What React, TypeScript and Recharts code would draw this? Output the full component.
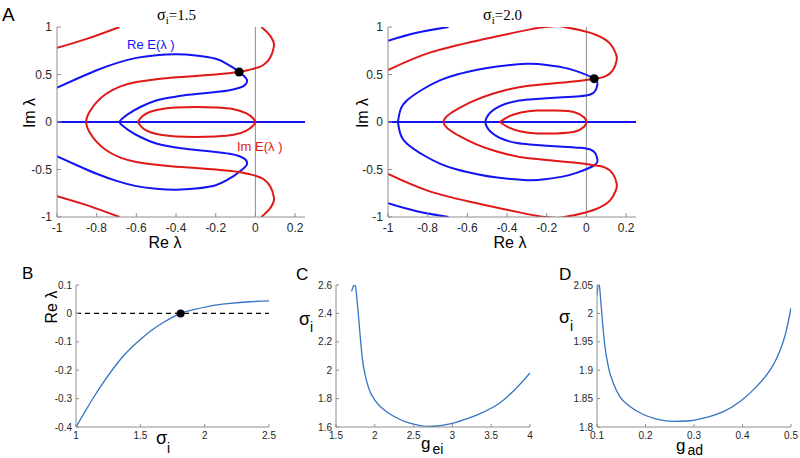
import React from 'react';
import { LineChart, Line, XAxis, YAxis, ReferenceLine, ReferenceDot } from 'recharts';

const AXIS = '#8f8f8f';
const TXT = '#262626';
const SANS = '"Liberation Sans", Arial, Helvetica, sans-serif';
const SERIF = '"Liberation Serif", "Times New Roman", serif';
const BLUE = '#1414f2';
const RED = '#e01818';
const MBLUE = '#3573c4';

// ---------- Panel A, sigma_i = 1.5 ----------
const a1RedTopLeft = [{ x: -1, y: 0.78 }, { x: -0.85, y: 0.875 }, { x: -0.685, y: 1.0 }];
const a1RedBottomLeft = [{ x: -1, y: -0.78 }, { x: -0.85, y: -0.875 }, { x: -0.685, y: -1.0 }];
const a1RedOuter = [
  { x: 0.03, y: 1.0 }, { x: 0.07, y: 0.92 }, { x: 0.09, y: 0.85 }, { x: 0.093, y: 0.79 },
  { x: 0.075, y: 0.68 }, { x: 0.04, y: 0.6 }, { x: 0, y: 0.565 }, { x: -0.04, y: 0.545 },
  { x: -0.082, y: 0.526 }, { x: -0.2, y: 0.5 }, { x: -0.3, y: 0.485 }, { x: -0.4, y: 0.47 },
  { x: -0.5, y: 0.45 }, { x: -0.6, y: 0.42 }, { x: -0.68, y: 0.375 }, { x: -0.75, y: 0.3 },
  { x: -0.8, y: 0.21 }, { x: -0.835, y: 0.11 }, { x: -0.853, y: 0 },
  { x: -0.835, y: -0.11 }, { x: -0.8, y: -0.21 }, { x: -0.75, y: -0.3 }, { x: -0.68, y: -0.375 },
  { x: -0.6, y: -0.42 }, { x: -0.5, y: -0.45 }, { x: -0.4, y: -0.47 }, { x: -0.3, y: -0.485 },
  { x: -0.2, y: -0.5 }, { x: -0.082, y: -0.526 }, { x: -0.04, y: -0.545 }, { x: 0, y: -0.565 },
  { x: 0.04, y: -0.6 }, { x: 0.075, y: -0.68 }, { x: 0.093, y: -0.79 }, { x: 0.09, y: -0.85 },
  { x: 0.07, y: -0.92 }, { x: 0.03, y: -1.0 },
];
const a1RedLoop = [
  { x: -0.593, y: 0 }, { x: -0.57, y: 0.06 }, { x: -0.53, y: 0.108 }, { x: -0.47, y: 0.138 },
  { x: -0.4, y: 0.152 }, { x: -0.3, y: 0.157 }, { x: -0.2, y: 0.152 }, { x: -0.11, y: 0.135 },
  { x: -0.045, y: 0.09 }, { x: -0.012, y: 0.04 }, { x: 0, y: 0 }, { x: -0.012, y: -0.04 },
  { x: -0.045, y: -0.09 }, { x: -0.11, y: -0.135 }, { x: -0.2, y: -0.152 }, { x: -0.3, y: -0.157 },
  { x: -0.4, y: -0.152 }, { x: -0.47, y: -0.138 }, { x: -0.53, y: -0.108 }, { x: -0.57, y: -0.06 },
  { x: -0.593, y: 0 },
];
const a1Blue = [
  { x: -1, y: 0.36 }, { x: -0.9, y: 0.455 }, { x: -0.8, y: 0.545 }, { x: -0.7, y: 0.62 },
  { x: -0.6, y: 0.675 }, { x: -0.5, y: 0.703 }, { x: -0.4, y: 0.712 }, { x: -0.3, y: 0.7 },
  { x: -0.2, y: 0.665 }, { x: -0.146, y: 0.614 }, { x: -0.11, y: 0.57 }, { x: -0.082, y: 0.526 },
  { x: -0.055, y: 0.48 }, { x: -0.042, y: 0.44 }, { x: -0.05, y: 0.395 }, { x: -0.08, y: 0.36 },
  { x: -0.13, y: 0.335 }, { x: -0.2, y: 0.316 }, { x: -0.3, y: 0.295 }, { x: -0.363, y: 0.28 },
  { x: -0.43, y: 0.258 }, { x: -0.5, y: 0.226 }, { x: -0.58, y: 0.158 }, { x: -0.64, y: 0.085 },
  { x: -0.672, y: 0.035 }, { x: -0.685, y: 0 },
  { x: -0.672, y: -0.035 }, { x: -0.64, y: -0.085 }, { x: -0.58, y: -0.158 }, { x: -0.5, y: -0.226 },
  { x: -0.43, y: -0.258 }, { x: -0.363, y: -0.28 }, { x: -0.3, y: -0.295 }, { x: -0.2, y: -0.316 },
  { x: -0.13, y: -0.335 }, { x: -0.08, y: -0.36 }, { x: -0.05, y: -0.395 }, { x: -0.042, y: -0.44 },
  { x: -0.055, y: -0.48 }, { x: -0.082, y: -0.526 }, { x: -0.11, y: -0.57 }, { x: -0.146, y: -0.614 },
  { x: -0.2, y: -0.665 }, { x: -0.3, y: -0.7 }, { x: -0.4, y: -0.712 }, { x: -0.5, y: -0.703 },
  { x: -0.6, y: -0.675 }, { x: -0.7, y: -0.62 }, { x: -0.8, y: -0.545 }, { x: -0.9, y: -0.455 },
  { x: -1, y: -0.36 },
];
const aAxisLine = [{ x: -1, y: 0 }, { x: 0.25, y: 0 }];
const a1Dot = { x: -0.082, y: 0.526 };

// ---------- Panel A, sigma_i = 2.0 ----------
const a2BlueTopLeft = [{ x: -1, y: 0.856 }, { x: -0.855, y: 0.94 }, { x: -0.695, y: 1.0 }];
const a2BlueBottomLeft = [{ x: -1, y: -0.856 }, { x: -0.855, y: -0.94 }, { x: -0.695, y: -1.0 }];
const a2RedOuter = [
  { x: -1, y: 0.547 }, { x: -0.79, y: 0.73 }, { x: -0.535, y: 0.863 }, { x: -0.283, y: 0.975 },
  { x: -0.2, y: 1.0 }, { x: -0.15, y: 1.01 }, { x: -0.11, y: 1.0 }, { x: -0.034, y: 0.968 },
  { x: 0.05, y: 0.916 }, { x: 0.118, y: 0.828 }, { x: 0.148, y: 0.723 }, { x: 0.153, y: 0.653 },
  { x: 0.134, y: 0.547 }, { x: 0.092, y: 0.477 }, { x: 0.039, y: 0.456 }, { x: -0.03, y: 0.435 },
  { x: -0.15, y: 0.41 }, { x: -0.3, y: 0.38 }, { x: -0.4, y: 0.34 }, { x: -0.484, y: 0.29 },
  { x: -0.56, y: 0.23 }, { x: -0.62, y: 0.17 }, { x: -0.686, y: 0.09 }, { x: -0.72, y: 0 },
  { x: -0.686, y: -0.09 }, { x: -0.62, y: -0.17 }, { x: -0.56, y: -0.23 }, { x: -0.484, y: -0.29 },
  { x: -0.4, y: -0.34 }, { x: -0.3, y: -0.38 }, { x: -0.15, y: -0.41 }, { x: -0.03, y: -0.435 },
  { x: 0.039, y: -0.456 }, { x: 0.092, y: -0.477 }, { x: 0.134, y: -0.547 }, { x: 0.153, y: -0.653 },
  { x: 0.148, y: -0.723 }, { x: 0.118, y: -0.828 }, { x: 0.05, y: -0.916 }, { x: -0.034, y: -0.968 },
  { x: -0.11, y: -1.0 }, { x: -0.15, y: -1.01 }, { x: -0.2, y: -1.0 }, { x: -0.283, y: -0.975 },
  { x: -0.535, y: -0.863 }, { x: -0.79, y: -0.73 }, { x: -1, y: -0.547 },
];
const a2RedLoop = [
  { x: -0.437, y: 0 }, { x: -0.39, y: 0.06 }, { x: -0.33, y: 0.1 }, { x: -0.25, y: 0.12 },
  { x: -0.15, y: 0.12 }, { x: -0.06, y: 0.103 }, { x: -0.012, y: 0.05 }, { x: 0, y: 0 },
  { x: -0.012, y: -0.05 }, { x: -0.06, y: -0.103 }, { x: -0.15, y: -0.12 }, { x: -0.25, y: -0.12 },
  { x: -0.33, y: -0.1 }, { x: -0.39, y: -0.06 }, { x: -0.437, y: 0 },
];
const a2Blue = [
  { x: -0.95, y: 0 }, { x: -0.938, y: 0.123 }, { x: -0.904, y: 0.228 }, { x: -0.82, y: 0.35 },
  { x: -0.736, y: 0.44 }, { x: -0.652, y: 0.5 }, { x: -0.55, y: 0.55 }, { x: -0.45, y: 0.585 },
  { x: -0.3, y: 0.612 }, { x: -0.2, y: 0.6 }, { x: -0.12, y: 0.575 }, { x: -0.05, y: 0.535 },
  { x: 0.039, y: 0.456 }, { x: 0.055, y: 0.39 }, { x: 0.045, y: 0.33 }, { x: 0.02, y: 0.29 },
  { x: -0.034, y: 0.272 }, { x: -0.12, y: 0.26 }, { x: -0.2, y: 0.25 }, { x: -0.286, y: 0.237 },
  { x: -0.35, y: 0.222 }, { x: -0.41, y: 0.19 }, { x: -0.455, y: 0.145 }, { x: -0.484, y: 0.1 },
  { x: -0.502, y: 0.05 }, { x: -0.509, y: 0 },
  { x: -0.502, y: -0.05 }, { x: -0.484, y: -0.1 }, { x: -0.455, y: -0.145 }, { x: -0.41, y: -0.19 },
  { x: -0.35, y: -0.222 }, { x: -0.286, y: -0.237 }, { x: -0.2, y: -0.25 }, { x: -0.12, y: -0.26 },
  { x: -0.034, y: -0.272 }, { x: 0.02, y: -0.29 }, { x: 0.045, y: -0.33 }, { x: 0.055, y: -0.39 },
  { x: 0.039, y: -0.456 }, { x: -0.05, y: -0.535 }, { x: -0.12, y: -0.575 }, { x: -0.2, y: -0.6 },
  { x: -0.3, y: -0.612 }, { x: -0.45, y: -0.585 }, { x: -0.55, y: -0.55 }, { x: -0.652, y: -0.5 },
  { x: -0.736, y: -0.44 }, { x: -0.82, y: -0.35 }, { x: -0.904, y: -0.228 }, { x: -0.938, y: -0.123 },
  { x: -0.95, y: 0 },
];
const a2Dot = { x: 0.039, y: 0.456 };

const aXTicks = [-1, -0.8, -0.6, -0.4, -0.2, 0, 0.2];
const aYTicks = [-1, -0.5, 0, 0.5, 1];

// ---------- Panel B ----------
const bData = [
  { x: 1.0, y: -0.4 }, { x: 1.057, y: -0.356 }, { x: 1.135, y: -0.297 }, { x: 1.212, y: -0.244 },
  { x: 1.29, y: -0.194 }, { x: 1.368, y: -0.15 }, { x: 1.446, y: -0.114 }, { x: 1.523, y: -0.083 },
  { x: 1.601, y: -0.055 }, { x: 1.679, y: -0.032 }, { x: 1.756, y: -0.012 }, { x: 1.813, y: 0 },
  { x: 1.912, y: 0.013 }, { x: 2.041, y: 0.026 }, { x: 2.197, y: 0.035 }, { x: 2.352, y: 0.041 },
  { x: 2.5, y: 0.044 },
];
const bDot = { x: 1.813, y: 0 };
const bXTicks = [1, 1.5, 2, 2.5];
const bYTicks = [-0.4, -0.3, -0.2, -0.1, 0, 0.1];

// ---------- Panel C ----------
const cData = [
  { x: 1.7, y: 2.555 }, { x: 1.72, y: 2.585 }, { x: 1.74, y: 2.61 }, { x: 1.755, y: 2.58 },
  { x: 1.77, y: 2.5 }, { x: 1.79, y: 2.38 }, { x: 1.81, y: 2.25 }, { x: 1.84, y: 2.08 },
  { x: 1.88, y: 1.955 }, { x: 1.93, y: 1.86 }, { x: 2.0, y: 1.79 }, { x: 2.1, y: 1.73 },
  { x: 2.2, y: 1.69 }, { x: 2.3, y: 1.66 }, { x: 2.4, y: 1.636 }, { x: 2.5, y: 1.62 },
  { x: 2.6, y: 1.608 }, { x: 2.7, y: 1.604 }, { x: 2.8, y: 1.607 }, { x: 2.9, y: 1.615 },
  { x: 3.0, y: 1.626 }, { x: 3.2, y: 1.66 }, { x: 3.4, y: 1.705 }, { x: 3.6, y: 1.765 },
  { x: 3.8, y: 1.86 }, { x: 4.0, y: 1.98 },
];
const cXTicks = [1.5, 2, 2.5, 3, 3.5, 4];
const cYTicks = [1.6, 1.8, 2, 2.2, 2.4, 2.6];

// ---------- Panel D ----------
const dData = [
  { x: 0.1, y: 2.032 }, { x: 0.104, y: 2.054 }, { x: 0.1076, y: 2.024 }, { x: 0.111, y: 1.988 },
  { x: 0.1165, y: 1.941 }, { x: 0.1234, y: 1.906 }, { x: 0.1337, y: 1.877 }, { x: 0.1474, y: 1.853 },
  { x: 0.168, y: 1.836 }, { x: 0.1955, y: 1.822 }, { x: 0.223, y: 1.814 }, { x: 0.2574, y: 1.81 },
  { x: 0.2918, y: 1.811 }, { x: 0.326, y: 1.817 }, { x: 0.3605, y: 1.827 }, { x: 0.395, y: 1.845 },
  { x: 0.429, y: 1.871 }, { x: 0.4567, y: 1.9 }, { x: 0.4705, y: 1.921 }, { x: 0.4842, y: 1.951 },
  { x: 0.491, y: 1.972 }, { x: 0.5, y: 2.01 },
];
const dXTicks = [0.1, 0.2, 0.3, 0.4, 0.5];
const dYTicks = [1.8, 1.85, 1.9, 1.95, 2, 2.05];

type Rect = { bx: number; by: number; bw: number; bh: number; x0: number; x1: number; y0: number; y1: number };
const YW = 40;

function margins(r: Rect, xh: number) {
  return {
    left: r.x0 - r.bx - YW,
    right: r.bx + r.bw - r.x1,
    top: r.y0 - r.by,
    bottom: r.by + r.bh - r.y1 - xh,
  };
}

function boxAxes(o: {
  xDomain: [number, number]; yDomain: [number, number]; xTicks: number[]; yTicks: number[];
  fontSize: number; tick: number; xMargin: number; yMargin: number; xh: number;
}) {
  const tickStyle = { fontSize: o.fontSize, fill: TXT, fontFamily: SANS };
  const line = { stroke: AXIS, strokeWidth: 1 };
  return [
    <XAxis key="xb" xAxisId="b" type="number" dataKey="x" domain={o.xDomain} ticks={o.xTicks}
      allowDataOverflow interval={0} height={o.xh} tickSize={-o.tick} tickMargin={o.xMargin}
      axisLine={line} tickLine={line} tick={tickStyle} />,
    <XAxis key="xt" xAxisId="t" orientation="top" type="number" dataKey="x" domain={o.xDomain} ticks={o.xTicks}
      allowDataOverflow interval={0} height={0} tickSize={-o.tick} tickMargin={0}
      axisLine={line} tickLine={line} tick={tickStyle} tickFormatter={() => ''} />,
    <YAxis key="yl" yAxisId="l" type="number" dataKey="y" domain={o.yDomain} ticks={o.yTicks}
      allowDataOverflow interval={0} width={YW} tickSize={-o.tick} tickMargin={o.yMargin}
      axisLine={line} tickLine={line} tick={tickStyle} />,
    <YAxis key="yr" yAxisId="r" orientation="right" type="number" dataKey="y" domain={o.yDomain} ticks={o.yTicks}
      allowDataOverflow interval={0} width={0} tickSize={-o.tick} tickMargin={0}
      axisLine={line} tickLine={line} tick={tickStyle} tickFormatter={() => ''} />,
  ];
}

type Curve = { data: { x: number; y: number }[]; color: string };

function ContourPanel({ rect, curves, dot }: { rect: Rect; curves: Curve[]; dot: { x: number; y: number } }) {
  const xh = 25;
  return (
    <div style={{ position: 'absolute', left: rect.bx, top: rect.by, width: rect.bw, height: rect.bh }}>
      <LineChart width={rect.bw} height={rect.bh} margin={margins(rect, xh)}>
        {boxAxes({ xDomain: [-1, 0.25], yDomain: [-1, 1], xTicks: aXTicks, yTicks: aYTicks, fontSize: 12, tick: 4, xMargin: 10, yMargin: 9, xh })}
        <ReferenceLine x={0} xAxisId="b" yAxisId="l" stroke={AXIS} strokeWidth={1} />
        {curves.map((c, i) => (
          <Line key={i} data={c.data} dataKey="y" xAxisId="b" yAxisId="l" type="natural"
            stroke={c.color} strokeWidth={2} dot={false} activeDot={false} isAnimationActive={false} />
        ))}
        <ReferenceDot x={dot.x} y={dot.y} xAxisId="b" yAxisId="l" r={4.5} fill="#000" stroke="none" />
      </LineChart>
    </div>
  );
}

function SimplePanel({ rect, data, xDomain, yDomain, xTicks, yTicks, children }: {
  rect: Rect; data: { x: number; y: number }[]; xDomain: [number, number]; yDomain: [number, number];
  xTicks: number[]; yTicks: number[]; children?: React.ReactNode;
}) {
  const xh = 20;
  return (
    <div style={{ position: 'absolute', left: rect.bx, top: rect.by, width: rect.bw, height: rect.bh }}>
      <LineChart width={rect.bw} height={rect.bh} data={data} margin={margins(rect, xh)}>
        {boxAxes({ xDomain, yDomain, xTicks, yTicks, fontSize: 10, tick: 3, xMargin: 8, yMargin: 7, xh })}
        {children}
        <Line dataKey="y" xAxisId="b" yAxisId="l" type="monotone" stroke={MBLUE} strokeWidth={1.3}
          dot={false} activeDot={false} isAnimationActive={false} />
      </LineChart>
    </div>
  );
}

const rA1: Rect = { bx: 0, by: 0, bw: 320, bh: 260, x0: 57, x1: 305, y0: 27, y1: 217 };
const rA2: Rect = { bx: 330, by: 0, bw: 320, bh: 260, x0: 388, x1: 636, y0: 27, y1: 217 };
const rB: Rect = { bx: 0, by: 270, bw: 280, bh: 188, x0: 76, x1: 269, y0: 285, y1: 427 };
const rC: Rect = { bx: 280, by: 270, bw: 260, bh: 188, x0: 336, x1: 530, y0: 285, y1: 427 };
const rD: Rect = { bx: 540, by: 270, bw: 260, bh: 188, x0: 597, x1: 791, y0: 285, y1: 427 };

export default function App() {
  const a1Curves: Curve[] = [
    { data: aAxisLine, color: BLUE },
    { data: a1Blue, color: BLUE },
    { data: a1RedTopLeft, color: RED },
    { data: a1RedBottomLeft, color: RED },
    { data: a1RedOuter, color: RED },
    { data: a1RedLoop, color: RED },
  ];
  const a2Curves: Curve[] = [
    { data: aAxisLine, color: BLUE },
    { data: a2Blue, color: BLUE },
    { data: a2BlueTopLeft, color: BLUE },
    { data: a2BlueBottomLeft, color: BLUE },
    { data: a2RedOuter, color: RED },
    { data: a2RedLoop, color: RED },
  ];
  return (
    <div style={{ position: 'absolute', left: 0, top: 0, width: 800, height: 458, background: '#fff', overflow: 'hidden' }}>
      <ContourPanel rect={rA1} curves={a1Curves} dot={a1Dot} />
      <ContourPanel rect={rA2} curves={a2Curves} dot={a2Dot} />
      <SimplePanel rect={rB} data={bData} xDomain={[1, 2.5]} yDomain={[-0.4, 0.1]} xTicks={bXTicks} yTicks={bYTicks}>
        <ReferenceLine y={0} xAxisId="b" yAxisId="l" stroke="#000" strokeWidth={1.3} strokeDasharray="5 4" />
        <ReferenceDot x={bDot.x} y={bDot.y} xAxisId="b" yAxisId="l" r={4} fill="#000" stroke="none" />
      </SimplePanel>
      <SimplePanel rect={rC} data={cData} xDomain={[1.5, 4]} yDomain={[1.6, 2.6]} xTicks={cXTicks} yTicks={cYTicks} />
      <SimplePanel rect={rD} data={dData} xDomain={[0.1, 0.5]} yDomain={[1.8, 2.05]} xTicks={dXTicks} yTicks={dYTicks} />
      <svg width={800} height={458} style={{ position: 'absolute', left: 0, top: 0, pointerEvents: 'none' }}>
        <g fontFamily={SANS} fill="#000">
          <text x={2} y={21} fontSize={19}>A</text>
          <text x={22} y={279} fontSize={17}>B</text>
          <text x={296} y={280} fontSize={17}>C</text>
          <text x={559} y={280} fontSize={17}>D</text>
          <text x={165} y={248} textAnchor="middle" fontSize={16}>Re λ</text>
          <text x={510} y={248} textAnchor="middle" fontSize={16}>Re λ</text>
          <text transform="translate(35,113) rotate(-90)" textAnchor="middle" fontSize={16}>Im λ</text>
          <text transform="translate(368,113) rotate(-90)" textAnchor="middle" fontSize={16}>Im λ</text>
          <text x={127} y={49} fontSize={13} fill={BLUE}>Re E(λ )</text>
          <text x={237} y={151} fontSize={13} fill={RED}>Im E(λ )</text>
          <text transform="translate(57,307) rotate(-90)" textAnchor="middle" fontSize={16}>Re λ</text>
          <text x={156} y={444} fontSize={18}>σ<tspan fontSize={14} dy={9}>i</tspan></text>
          <text x={299} y={325} fontSize={18}>σ<tspan fontSize={14} dy={7}>i</tspan></text>
          <text x={559} y={323} fontSize={18}>σ<tspan fontSize={14} dy={8}>i</tspan></text>
          <text x={421} y={449} fontSize={17}>g<tspan fontSize={14} dx={2} dy={5}>ei</tspan></text>
          <text x={676} y={451} fontSize={17}>g<tspan fontSize={14} dx={2} dy={4}>ad</tspan></text>
        </g>
        <g fontFamily={SERIF} fill="#000">
          <text x={157} y={20} fontSize={16}>σ<tspan fontSize={11} dy={4}>i</tspan><tspan fontSize={15} dy={-4}>=1.5</tspan></text>
          <text x={483} y={20} fontSize={16}>σ<tspan fontSize={11} dy={4}>i</tspan><tspan fontSize={15} dy={-4}>=2.0</tspan></text>
        </g>
      </svg>
    </div>
  );
}
